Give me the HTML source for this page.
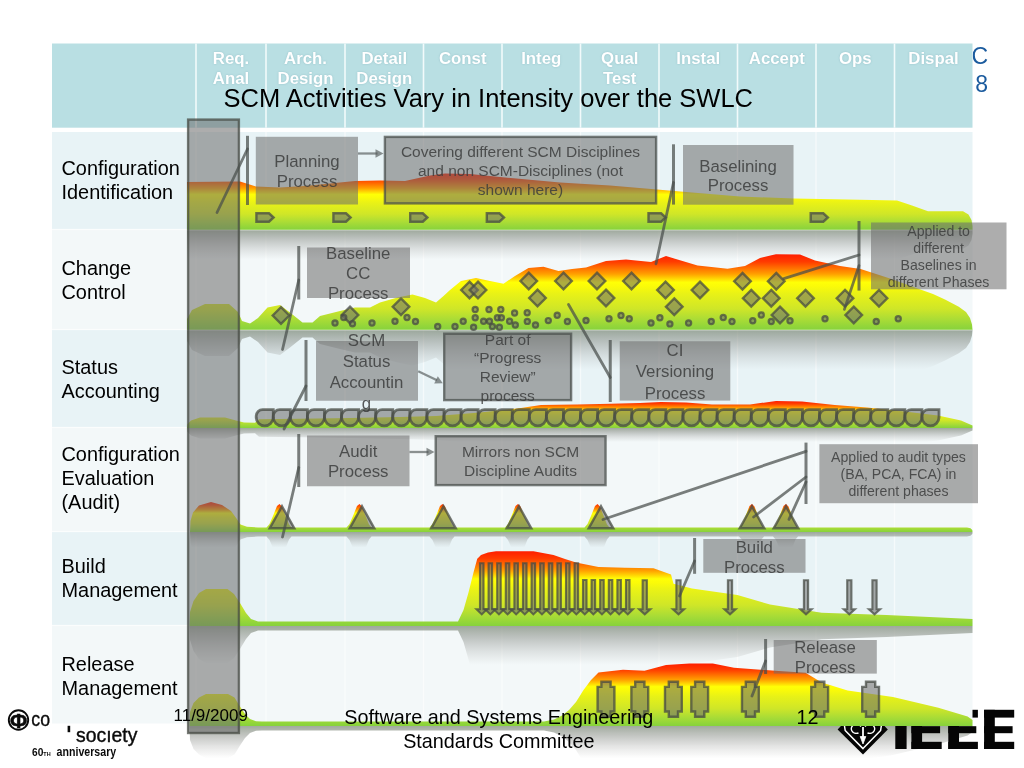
<!DOCTYPE html>
<html><head><meta charset="utf-8"><title>SCM Activities Vary in Intensity over the SWLC</title>
<style>
html,body{margin:0;padding:0;background:#ffffff;}
body{width:1024px;height:768px;overflow:hidden;position:relative;font-family:"Liberation Sans", sans-serif;}
svg text{font-family:"Liberation Sans", sans-serif;}
</style></head><body>
<svg width="1024" height="768" viewBox="0 0 1024 768" style="will-change:transform;position:absolute;left:0;top:0;font-family:'Liberation Sans', sans-serif">
<defs>
<linearGradient id="g1" gradientUnits="userSpaceOnUse" x1="0" y1="173.50" x2="0" y2="230.00">
<stop offset="0" stop-color="#ff1e00"/><stop offset="0.10" stop-color="#ff3c00"/><stop offset="0.26" stop-color="#ffa000"/><stop offset="0.37" stop-color="#ffff06"/><stop offset="0.42" stop-color="#fbfb08"/><stop offset="0.52" stop-color="#e9f216"/><stop offset="0.72" stop-color="#cfe628"/><stop offset="0.86" stop-color="#aadc36"/><stop offset="1" stop-color="#86d23c"/>
</linearGradient>
<linearGradient id="r1" gradientUnits="userSpaceOnUse" x1="0" y1="230.00" x2="0" y2="259.38">
<stop offset="0" stop-color="#7d8a78" stop-opacity="0.72"/><stop offset="0.3" stop-color="#888d86" stop-opacity="0.5"/><stop offset="0.65" stop-color="#939592" stop-opacity="0.23"/><stop offset="1" stop-color="#a0a09c" stop-opacity="0"/>
</linearGradient>
<linearGradient id="g2" gradientUnits="userSpaceOnUse" x1="0" y1="254.30" x2="0" y2="330.00">
<stop offset="0" stop-color="#ff1e00"/><stop offset="0.10" stop-color="#ff3c00"/><stop offset="0.26" stop-color="#ffa000"/><stop offset="0.37" stop-color="#ffff06"/><stop offset="0.42" stop-color="#fbfb08"/><stop offset="0.52" stop-color="#e9f216"/><stop offset="0.72" stop-color="#cfe628"/><stop offset="0.86" stop-color="#aadc36"/><stop offset="1" stop-color="#86d23c"/>
</linearGradient>
<linearGradient id="r2" gradientUnits="userSpaceOnUse" x1="0" y1="330.00" x2="0" y2="369.36">
<stop offset="0" stop-color="#7d8a78" stop-opacity="0.72"/><stop offset="0.3" stop-color="#888d86" stop-opacity="0.5"/><stop offset="0.65" stop-color="#939592" stop-opacity="0.23"/><stop offset="1" stop-color="#a0a09c" stop-opacity="0"/>
</linearGradient>
<linearGradient id="g3" gradientUnits="userSpaceOnUse" x1="0" y1="401.00" x2="0" y2="428.00">
<stop offset="0" stop-color="#ff1e00"/><stop offset="0.10" stop-color="#ff3c00"/><stop offset="0.26" stop-color="#ffa000"/><stop offset="0.37" stop-color="#ffff06"/><stop offset="0.42" stop-color="#fbfb08"/><stop offset="0.52" stop-color="#e9f216"/><stop offset="0.72" stop-color="#cfe628"/><stop offset="0.86" stop-color="#aadc36"/><stop offset="1" stop-color="#86d23c"/>
</linearGradient>
<linearGradient id="r3" gradientUnits="userSpaceOnUse" x1="0" y1="428.00" x2="0" y2="442.04">
<stop offset="0" stop-color="#7d8a78" stop-opacity="0.72"/><stop offset="0.3" stop-color="#888d86" stop-opacity="0.5"/><stop offset="0.65" stop-color="#939592" stop-opacity="0.23"/><stop offset="1" stop-color="#a0a09c" stop-opacity="0"/>
</linearGradient>
<linearGradient id="g4" gradientUnits="userSpaceOnUse" x1="0" y1="502.00" x2="0" y2="532.00">
<stop offset="0" stop-color="#ff1e00"/><stop offset="0.10" stop-color="#ff3c00"/><stop offset="0.26" stop-color="#ffa000"/><stop offset="0.37" stop-color="#ffff06"/><stop offset="0.42" stop-color="#fbfb08"/><stop offset="0.52" stop-color="#e9f216"/><stop offset="0.72" stop-color="#cfe628"/><stop offset="0.86" stop-color="#aadc36"/><stop offset="1" stop-color="#86d23c"/>
</linearGradient>
<linearGradient id="r4" gradientUnits="userSpaceOnUse" x1="0" y1="532.00" x2="0" y2="547.60">
<stop offset="0" stop-color="#7d8a78" stop-opacity="0.72"/><stop offset="0.3" stop-color="#888d86" stop-opacity="0.5"/><stop offset="0.65" stop-color="#939592" stop-opacity="0.23"/><stop offset="1" stop-color="#a0a09c" stop-opacity="0"/>
</linearGradient>
<linearGradient id="g5" gradientUnits="userSpaceOnUse" x1="0" y1="551.25" x2="0" y2="626.00">
<stop offset="0" stop-color="#ff1e00"/><stop offset="0.10" stop-color="#ff3c00"/><stop offset="0.26" stop-color="#ffa000"/><stop offset="0.37" stop-color="#ffff06"/><stop offset="0.42" stop-color="#fbfb08"/><stop offset="0.52" stop-color="#e9f216"/><stop offset="0.72" stop-color="#cfe628"/><stop offset="0.86" stop-color="#aadc36"/><stop offset="1" stop-color="#86d23c"/>
</linearGradient>
<linearGradient id="r5" gradientUnits="userSpaceOnUse" x1="0" y1="626.00" x2="0" y2="664.87">
<stop offset="0" stop-color="#7d8a78" stop-opacity="0.72"/><stop offset="0.3" stop-color="#888d86" stop-opacity="0.5"/><stop offset="0.65" stop-color="#939592" stop-opacity="0.23"/><stop offset="1" stop-color="#a0a09c" stop-opacity="0"/>
</linearGradient>
<linearGradient id="g6" gradientUnits="userSpaceOnUse" x1="0" y1="663.50" x2="0" y2="726.00">
<stop offset="0" stop-color="#ff1e00"/><stop offset="0.10" stop-color="#ff3c00"/><stop offset="0.26" stop-color="#ffa000"/><stop offset="0.37" stop-color="#ffff06"/><stop offset="0.42" stop-color="#fbfb08"/><stop offset="0.52" stop-color="#e9f216"/><stop offset="0.72" stop-color="#cfe628"/><stop offset="0.86" stop-color="#aadc36"/><stop offset="1" stop-color="#86d23c"/>
</linearGradient>
<linearGradient id="r6" gradientUnits="userSpaceOnUse" x1="0" y1="726.00" x2="0" y2="758.50">
<stop offset="0" stop-color="#7d8a78" stop-opacity="0.72"/><stop offset="0.3" stop-color="#888d86" stop-opacity="0.5"/><stop offset="0.65" stop-color="#939592" stop-opacity="0.23"/><stop offset="1" stop-color="#a0a09c" stop-opacity="0"/>
</linearGradient>
<clipPath id="clipR"><rect x="972.5" y="0" width="60" height="140"/></clipPath>
</defs>
<path d="M189.50,726.00 L190.00,740.00 L193.50,749.00 L199.00,754.50 L206.00,758.00 L228.00,758.00 L234.50,754.50 L240.00,745.50 L245.00,738.00 L250.00,733.00 L256.00,730.70 L262.00,730.50 L544.00,730.50 L554.00,732.50 L562.00,736.50 L569.00,742.00 L576.00,750.00 L583.50,762.00 L591.00,772.00 L598.50,779.50 L623.00,782.20 L644.50,781.30 L666.00,787.00 L689.40,788.50 L712.80,788.50 L734.00,784.20 L775.00,781.30 L805.50,779.30 L821.70,769.60 L847.60,761.50 L893.00,755.00 L938.40,744.30 L967.60,735.60 L972.50,732.00 L972.50,726.00 Z" fill="url(#r6)"/>
<g clip-path="url(#clipR)" fill="#1b5b9e" font-size="23px" text-anchor="end">
<text x="988" y="64.4">C</text><text x="988" y="91.6">8</text>
</g>
<g id="ieee" fill="#050505">
<path d="M837.6,729.6 L863,703 L887.8,729.6 L863,754.4 Z"/>
<rect x="895.3" y="709.8" width="11.3" height="39.2"/>
<rect x="911.4" y="709.8" width="10.7" height="39.2"/><rect x="911.4" y="709.8" width="30.3" height="7.8"/><rect x="911.4" y="726.2" width="28.7" height="7"/><rect x="911.4" y="741.8" width="30.3" height="7.2"/>
<rect x="948.3" y="709.8" width="10.7" height="39.2"/><rect x="948.3" y="709.8" width="29.6" height="7.8"/><rect x="948.3" y="726.2" width="28.0" height="7"/><rect x="948.3" y="741.8" width="29.6" height="7.2"/>
<rect x="984.1" y="709.8" width="10.7" height="39.2"/><rect x="984.1" y="709.8" width="30.1" height="7.8"/><rect x="984.1" y="726.2" width="28.5" height="7"/><rect x="984.1" y="741.8" width="30.1" height="7.2"/>
</g>
<g fill="none" stroke="#fff" stroke-width="1.5" stroke-linejoin="round">
<path d="M844.5,726 L845.2,730.5 L863,748.6 L880.6,730.5 L881.3,726"/>
<path d="M863,727 V739" stroke-width="1.8"/>
<path d="M860.2,736.5 L863,744 L865.8,736.5 Z" fill="#fff" stroke-width="0.8"/>
<path d="M858.5,733 a5.2,4.6 0 1 1 2.5,-6.5 M867.5,733 a5.2,4.6 0 1 0 -2.5,-6.5" stroke-width="1.4"/>
</g>
<g fill="#0a0a0a" stroke="#0a0a0a">
<circle cx="18.5" cy="720" r="9.7" fill="none" stroke-width="1.9"/>
<text x="18.5" y="727.6" font-size="21px" font-weight="bold" text-anchor="middle" stroke-width="0.5" font-family="Liberation Serif, serif">&#934;</text>
<text transform="translate(31.3,725.9) scale(0.9,1)" font-size="19.7px" stroke-width="0.35">co</text>
<text transform="translate(76,741.6) scale(0.945,1)" font-size="20.5px" stroke-width="0.4">soc&#305;ety</text>
<rect x="67.6" y="725.8" width="2.6" height="6.4" stroke="none"/>
<text transform="translate(32,755.7) scale(0.88,1)" font-size="11.6px" font-weight="bold" stroke="none">60<tspan font-size="6.2px">TH</tspan></text>
<text transform="translate(56.6,755.7) scale(0.885,1)" font-size="12px" font-weight="bold" stroke="none">anniversary</text>
</g>
<rect x="52.0" y="43.5" width="920.5" height="84.2" fill="#b9dfe3"/>
<rect x="52.0" y="132.0" width="920.5" height="97.5" fill="#e8f3f6"/>
<rect x="52.0" y="229.5" width="920.5" height="100.0" fill="#f3f8f9"/>
<rect x="52.0" y="329.5" width="920.5" height="98.0" fill="#e8f3f6"/>
<rect x="52.0" y="427.5" width="920.5" height="104.0" fill="#f3f8f9"/>
<rect x="52.0" y="531.5" width="920.5" height="94.0" fill="#e8f3f6"/>
<rect x="52.0" y="625.5" width="920.5" height="98.0" fill="#f3f8f9"/>
<rect x="52.0" y="228.9" width="920.5" height="1.2" fill="#fbfdfd"/>
<rect x="52.0" y="328.9" width="920.5" height="1.2" fill="#fbfdfd"/>
<rect x="52.0" y="426.9" width="920.5" height="1.2" fill="#fbfdfd"/>
<rect x="52.0" y="530.9" width="920.5" height="1.2" fill="#fbfdfd"/>
<rect x="52.0" y="624.9" width="920.5" height="1.2" fill="#fbfdfd"/>
<rect x="195.20" y="43.5" width="1.6" height="84.2" fill="#f2fafb"/>
<rect x="195.30" y="132" width="1.4" height="591.5" fill="#ffffff" fill-opacity="0.55"/>
<rect x="265.20" y="43.5" width="1.6" height="84.2" fill="#f2fafb"/>
<rect x="265.30" y="132" width="1.4" height="591.5" fill="#ffffff" fill-opacity="0.55"/>
<rect x="344.20" y="43.5" width="1.6" height="84.2" fill="#f2fafb"/>
<rect x="344.30" y="132" width="1.4" height="591.5" fill="#ffffff" fill-opacity="0.55"/>
<rect x="422.70" y="43.5" width="1.6" height="84.2" fill="#f2fafb"/>
<rect x="422.80" y="132" width="1.4" height="591.5" fill="#ffffff" fill-opacity="0.55"/>
<rect x="501.20" y="43.5" width="1.6" height="84.2" fill="#f2fafb"/>
<rect x="501.30" y="132" width="1.4" height="591.5" fill="#ffffff" fill-opacity="0.55"/>
<rect x="579.70" y="43.5" width="1.6" height="84.2" fill="#f2fafb"/>
<rect x="579.80" y="132" width="1.4" height="591.5" fill="#ffffff" fill-opacity="0.55"/>
<rect x="658.20" y="43.5" width="1.6" height="84.2" fill="#f2fafb"/>
<rect x="658.30" y="132" width="1.4" height="591.5" fill="#ffffff" fill-opacity="0.55"/>
<rect x="736.70" y="43.5" width="1.6" height="84.2" fill="#f2fafb"/>
<rect x="736.80" y="132" width="1.4" height="591.5" fill="#ffffff" fill-opacity="0.55"/>
<rect x="815.20" y="43.5" width="1.6" height="84.2" fill="#f2fafb"/>
<rect x="815.30" y="132" width="1.4" height="591.5" fill="#ffffff" fill-opacity="0.55"/>
<rect x="893.70" y="43.5" width="1.6" height="84.2" fill="#f2fafb"/>
<rect x="893.80" y="132" width="1.4" height="591.5" fill="#ffffff" fill-opacity="0.55"/>
<g fill="#ffffff" font-weight="bold" font-size="16.8px" text-anchor="middle" style="text-shadow:0 0 2px rgba(120,170,180,0.6)">
<text x="231.00" y="64.2">Req.</text>
<text x="231.00" y="83.7">Anal</text>
<text x="305.50" y="64.2">Arch.</text>
<text x="305.50" y="83.7">Design</text>
<text x="384.25" y="64.2">Detail</text>
<text x="384.25" y="83.7">Design</text>
<text x="462.75" y="64.2">Const</text>
<text x="541.25" y="64.2">Integ</text>
<text x="619.75" y="64.2">Qual</text>
<text x="619.75" y="83.7">Test</text>
<text x="698.25" y="64.2">Instal</text>
<text x="776.75" y="64.2">Accept</text>
<text x="855.25" y="64.2">Ops</text>
<text x="933.50" y="64.2">Dispal</text>
</g>
<g fill="#000" font-size="19.9px">
<text x="61.5" y="175.0">Configuration</text>
<text x="61.5" y="198.8">Identification</text>
<text x="61.5" y="275.0">Change</text>
<text x="61.5" y="299.0">Control</text>
<text x="61.5" y="374.0">Status</text>
<text x="61.5" y="398.3">Accounting</text>
<text x="61.5" y="461.0">Configuration</text>
<text x="61.5" y="485.0">Evaluation</text>
<text x="61.5" y="509.0">(Audit)</text>
<text x="61.5" y="572.5">Build</text>
<text x="61.5" y="596.5">Management</text>
<text x="61.5" y="671.0">Release</text>
<text x="61.5" y="694.6">Management</text>
</g>
<path d="M187.00,230.00 L187.00,278.00 L240.00,278.50 L256.00,273.50 L280.00,272.50 L305.00,274.00 L330.00,276.50 L355.00,279.00 L380.00,279.50 L405.00,279.00 L430.00,284.50 L445.00,286.50 L470.00,286.00 L500.00,283.00 L560.00,277.50 L610.00,274.50 L657.00,270.50 L692.00,267.50 L740.00,263.50 L794.00,261.50 L860.00,260.30 L897.00,259.50 L912.00,254.50 L928.00,248.70 L963.00,248.70 L968.50,245.50 L971.50,240.00 L972.50,234.00 L972.50,230.00 Z" fill="url(#r1)"/>
<path d="M187.00,330.00 L187.00,341.00 L192.00,350.00 L205.00,356.00 L229.00,356.00 L238.00,348.00 L242.00,339.00 L250.00,336.50 L258.00,342.00 L267.50,352.50 L280.00,355.00 L290.00,347.50 L302.50,337.50 L312.50,337.50 L320.00,344.00 L340.00,349.00 L355.00,352.50 L370.00,352.50 L380.00,357.50 L397.50,362.50 L412.50,365.50 L425.00,362.00 L436.00,357.50 L443.50,364.00 L450.00,370.00 L461.00,379.00 L476.00,382.00 L490.00,379.00 L503.50,376.25 L515.00,384.00 L528.50,392.00 L543.50,393.25 L558.50,389.00 L572.00,391.00 L586.00,392.50 L606.00,399.00 L626.00,400.50 L651.00,398.00 L666.00,404.00 L675.00,401.25 L697.50,394.50 L711.50,393.00 L727.50,391.25 L745.00,394.00 L760.00,402.00 L772.50,405.00 L776.00,405.70 L800.00,405.50 L815.00,399.50 L840.00,394.00 L860.60,391.00 L890.00,381.50 L919.00,371.00 L933.00,366.00 L945.00,360.50 L958.80,353.30 L966.00,348.00 L970.00,342.00 L972.00,335.50 L972.50,330.00 Z" fill="url(#r2)"/>
<path d="M187.00,428.00 L187.50,432.00 L191.00,435.50 L200.00,438.50 L225.00,438.50 L236.00,435.50 L244.00,433.40 L255.00,433.20 L259.00,436.80 L300.00,437.20 L350.00,438.00 L400.00,439.00 L436.00,440.00 L480.00,443.50 L521.00,448.00 L541.00,451.00 L577.00,451.50 L611.00,452.25 L640.00,453.00 L661.00,454.00 L686.00,453.50 L712.00,451.50 L750.00,451.50 L776.00,455.00 L802.00,454.50 L834.70,451.00 L867.00,448.50 L900.00,445.00 L938.00,440.40 L961.00,435.50 L972.50,430.50 L972.50,428.00 Z" fill="url(#r3)"/>
<path d="M190.00,532.00 L190.50,543.00 L193.00,551.50 L199.00,558.50 L211.00,562.00 L222.00,559.00 L231.00,553.00 L236.50,545.50 L240.50,539.50 L247.00,537.20 L258.00,536.50 L266.50,536.50 L269.50,540.00 L273.00,548.00 L277.00,558.00 L279.50,560.00 L282.00,557.50 L286.00,547.00 L289.00,539.50 L291.50,536.50 L346.50,536.50 L349.50,540.00 L353.00,548.00 L357.00,558.00 L359.50,560.00 L362.00,557.50 L366.00,547.00 L369.00,539.50 L371.50,536.50 L429.50,536.50 L432.50,540.00 L436.00,548.00 L440.00,558.00 L442.50,560.00 L445.00,557.50 L449.00,547.00 L452.00,539.50 L454.50,536.50 L505.00,536.50 L508.00,540.00 L511.50,548.00 L515.50,558.00 L518.00,560.00 L520.50,557.50 L524.50,547.00 L527.50,539.50 L530.00,536.50 L584.50,536.50 L587.50,540.00 L591.00,548.00 L595.00,558.00 L597.50,560.00 L600.00,557.50 L604.00,547.00 L607.00,539.50 L609.50,536.50 L739.00,536.50 L742.00,540.00 L745.50,548.00 L749.50,558.00 L752.00,560.00 L754.50,557.50 L758.50,547.00 L761.50,539.50 L764.00,536.50 L773.00,536.50 L776.00,540.00 L779.50,548.00 L783.50,558.00 L786.00,560.00 L788.50,557.50 L792.50,547.00 L795.50,539.50 L798.00,536.50 L967.00,536.50 L970.50,535.70 L972.30,534.00 L972.50,532.00 Z" fill="url(#r4)"/>
<path d="M189.50,626.00 L190.00,640.00 L193.50,651.00 L199.00,659.00 L206.00,663.00 L227.50,663.00 L234.00,658.00 L240.00,649.00 L246.00,639.00 L251.00,633.00 L258.00,630.50 L458.00,630.50 L463.50,642.00 L468.50,659.50 L473.50,679.50 L477.25,693.25 L481.00,697.00 L488.00,699.50 L496.00,700.75 L533.50,700.75 L553.50,697.00 L565.00,693.00 L576.00,689.50 L598.50,685.00 L625.00,684.20 L653.50,683.75 L671.00,677.50 L673.50,668.25 L692.00,663.50 L737.40,657.00 L770.00,647.40 L821.70,639.30 L886.50,637.00 L972.50,633.00 L972.50,626.00 Z" fill="url(#r5)"/>
<path d="M187.00,230.00 L187.00,182.00 L240.00,181.50 L256.00,186.50 L280.00,187.50 L305.00,186.00 L330.00,183.50 L355.00,181.00 L380.00,180.50 L405.00,181.00 L430.00,175.50 L445.00,173.50 L470.00,174.00 L500.00,177.00 L560.00,182.50 L610.00,185.50 L657.00,189.50 L692.00,192.50 L740.00,196.50 L794.00,198.50 L860.00,199.70 L897.00,200.50 L912.00,205.50 L928.00,211.30 L963.00,211.30 L968.50,214.50 L971.50,220.00 L972.50,226.00 L972.50,230.00 Z" fill="url(#g1)"/>
<path d="M187.00,330.00 L187.00,319.00 L192.00,310.00 L205.00,304.00 L229.00,304.00 L238.00,312.00 L242.00,321.00 L250.00,323.50 L258.00,318.00 L267.50,307.50 L280.00,305.00 L290.00,312.50 L302.50,322.50 L312.50,322.50 L320.00,316.00 L340.00,311.00 L355.00,307.50 L370.00,307.50 L380.00,302.50 L397.50,297.50 L412.50,294.50 L425.00,298.00 L436.00,302.50 L443.50,296.00 L450.00,290.00 L461.00,281.00 L476.00,278.00 L490.00,281.00 L503.50,283.75 L515.00,276.00 L528.50,268.00 L543.50,266.75 L558.50,271.00 L572.00,269.00 L586.00,267.50 L606.00,261.00 L626.00,259.50 L651.00,262.00 L666.00,256.00 L675.00,258.75 L697.50,265.50 L711.50,267.00 L727.50,268.75 L745.00,266.00 L760.00,258.00 L772.50,255.00 L776.00,254.30 L800.00,254.50 L815.00,260.50 L840.00,266.00 L860.60,269.00 L890.00,278.50 L919.00,289.00 L933.00,294.00 L945.00,299.50 L958.80,306.70 L966.00,312.00 L970.00,318.00 L972.00,324.50 L972.50,330.00 Z" fill="url(#g2)"/>
<path d="M187.00,428.00 L187.50,424.00 L191.00,420.50 L200.00,417.50 L225.00,417.50 L236.00,420.50 L244.00,422.60 L255.00,422.80 L259.00,419.20 L300.00,418.80 L350.00,418.00 L400.00,417.00 L436.00,416.00 L480.00,412.50 L521.00,408.00 L541.00,405.00 L577.00,404.50 L611.00,403.75 L640.00,403.00 L661.00,402.00 L686.00,402.50 L712.00,404.50 L750.00,404.50 L776.00,401.00 L802.00,401.50 L834.70,405.00 L867.00,407.50 L900.00,411.00 L938.00,415.60 L961.00,420.50 L972.50,425.50 L972.50,428.00 Z" fill="url(#g3)"/>
<path d="M190.00,532.00 L190.50,521.00 L193.00,512.50 L199.00,505.50 L211.00,502.00 L222.00,505.00 L231.00,511.00 L236.50,518.50 L240.50,524.50 L247.00,526.80 L258.00,527.50 L266.50,527.50 L269.50,524.00 L273.00,516.00 L277.00,506.00 L279.50,504.00 L282.00,506.50 L286.00,517.00 L289.00,524.50 L291.50,527.50 L346.50,527.50 L349.50,524.00 L353.00,516.00 L357.00,506.00 L359.50,504.00 L362.00,506.50 L366.00,517.00 L369.00,524.50 L371.50,527.50 L429.50,527.50 L432.50,524.00 L436.00,516.00 L440.00,506.00 L442.50,504.00 L445.00,506.50 L449.00,517.00 L452.00,524.50 L454.50,527.50 L505.00,527.50 L508.00,524.00 L511.50,516.00 L515.50,506.00 L518.00,504.00 L520.50,506.50 L524.50,517.00 L527.50,524.50 L530.00,527.50 L584.50,527.50 L587.50,524.00 L591.00,516.00 L595.00,506.00 L597.50,504.00 L600.00,506.50 L604.00,517.00 L607.00,524.50 L609.50,527.50 L739.00,527.50 L742.00,524.00 L745.50,516.00 L749.50,506.00 L752.00,504.00 L754.50,506.50 L758.50,517.00 L761.50,524.50 L764.00,527.50 L773.00,527.50 L776.00,524.00 L779.50,516.00 L783.50,506.00 L786.00,504.00 L788.50,506.50 L792.50,517.00 L795.50,524.50 L798.00,527.50 L967.00,527.50 L970.50,528.30 L972.30,530.00 L972.50,532.00 Z" fill="url(#g4)"/>
<path d="M189.50,626.00 L190.00,612.00 L193.50,601.00 L199.00,593.00 L206.00,589.00 L227.50,589.00 L234.00,594.00 L240.00,603.00 L246.00,613.00 L251.00,619.00 L258.00,621.50 L458.00,621.50 L463.50,610.00 L468.50,592.50 L473.50,572.50 L477.25,558.75 L481.00,555.00 L488.00,552.50 L496.00,551.25 L533.50,551.25 L553.50,555.00 L565.00,559.00 L576.00,562.50 L598.50,567.00 L625.00,567.80 L653.50,568.25 L671.00,574.50 L673.50,583.75 L692.00,588.50 L737.40,595.00 L770.00,604.60 L821.70,612.70 L886.50,615.00 L972.50,619.00 L972.50,626.00 Z" fill="url(#g5)"/>
<path d="M189.50,726.00 L190.00,712.00 L193.50,703.00 L199.00,697.50 L206.00,694.00 L228.00,694.00 L234.50,697.50 L240.00,706.50 L245.00,714.00 L250.00,719.00 L256.00,721.30 L262.00,721.50 L544.00,721.50 L554.00,719.50 L562.00,715.50 L569.00,710.00 L576.00,702.00 L583.50,690.00 L591.00,680.00 L598.50,672.50 L623.00,669.80 L644.50,670.70 L666.00,665.00 L689.40,663.50 L712.80,663.50 L734.00,667.80 L775.00,670.70 L805.50,672.70 L821.70,682.40 L847.60,690.50 L893.00,697.00 L938.40,707.70 L967.60,716.40 L972.50,720.00 L972.50,726.00 Z" fill="url(#g6)"/>
<rect x="187" y="229.6" width="785.5" height="0.9" fill="#ffffff" fill-opacity="0.55"/>
<rect x="187" y="329.6" width="785.5" height="0.9" fill="#ffffff" fill-opacity="0.55"/>
<g fill="rgba(108,108,108,0.56)" stroke="rgba(70,74,68,0.74)" stroke-width="2.4" stroke-linejoin="miter">
<path d="M256.4,213.3 h12.6 l4.6,4.2 l-4.6,4.2 h-12.6 Z"/>
<path d="M333.4,213.3 h12.6 l4.6,4.2 l-4.6,4.2 h-12.6 Z"/>
<path d="M410.2,213.3 h12.6 l4.6,4.2 l-4.6,4.2 h-12.6 Z"/>
<path d="M486.8,213.3 h12.6 l4.6,4.2 l-4.6,4.2 h-12.6 Z"/>
<path d="M648.5,213.3 h12.6 l4.6,4.2 l-4.6,4.2 h-12.6 Z"/>
<path d="M810.7,213.3 h12.6 l4.6,4.2 l-4.6,4.2 h-12.6 Z"/>
</g>
<g fill="rgba(108,108,108,0.56)" stroke="rgba(70,74,68,0.74)" stroke-width="2.4" stroke-linejoin="miter">
<path d="M281.00,307.20 L289.30,315.50 L281.00,323.80 L272.70,315.50 Z"/>
<path d="M350.00,306.70 L358.30,315.00 L350.00,323.30 L341.70,315.00 Z"/>
<path d="M401.00,298.45 L409.30,306.75 L401.00,315.05 L392.70,306.75 Z"/>
<path d="M469.50,281.70 L477.80,290.00 L469.50,298.30 L461.20,290.00 Z"/>
<path d="M478.00,281.70 L486.30,290.00 L478.00,298.30 L469.70,290.00 Z"/>
<path d="M528.75,272.70 L537.05,281.00 L528.75,289.30 L520.45,281.00 Z"/>
<path d="M537.50,289.70 L545.80,298.00 L537.50,306.30 L529.20,298.00 Z"/>
<path d="M563.50,272.70 L571.80,281.00 L563.50,289.30 L555.20,281.00 Z"/>
<path d="M597.00,272.70 L605.30,281.00 L597.00,289.30 L588.70,281.00 Z"/>
<path d="M606.00,289.70 L614.30,298.00 L606.00,306.30 L597.70,298.00 Z"/>
<path d="M631.50,272.70 L639.80,281.00 L631.50,289.30 L623.20,281.00 Z"/>
<path d="M665.50,281.70 L673.80,290.00 L665.50,298.30 L657.20,290.00 Z"/>
<path d="M674.25,298.45 L682.55,306.75 L674.25,315.05 L665.95,306.75 Z"/>
<path d="M700.00,281.70 L708.30,290.00 L700.00,298.30 L691.70,290.00 Z"/>
<path d="M742.50,272.95 L750.80,281.25 L742.50,289.55 L734.20,281.25 Z"/>
<path d="M751.25,289.95 L759.55,298.25 L751.25,306.55 L742.95,298.25 Z"/>
<path d="M771.25,289.95 L779.55,298.25 L771.25,306.55 L762.95,298.25 Z"/>
<path d="M776.25,272.95 L784.55,281.25 L776.25,289.55 L767.95,281.25 Z"/>
<path d="M780.00,306.70 L788.30,315.00 L780.00,323.30 L771.70,315.00 Z"/>
<path d="M805.50,289.95 L813.80,298.25 L805.50,306.55 L797.20,298.25 Z"/>
<path d="M845.00,289.95 L853.30,298.25 L845.00,306.55 L836.70,298.25 Z"/>
<path d="M853.75,306.70 L862.05,315.00 L853.75,323.30 L845.45,315.00 Z"/>
<path d="M879.00,289.95 L887.30,298.25 L879.00,306.55 L870.70,298.25 Z"/>
</g>
<g fill="rgba(108,108,108,0.56)" stroke="rgba(70,74,68,0.74)" stroke-width="2.2">
<circle cx="335.00" cy="323.00" r="2.6"/>
<circle cx="343.75" cy="317.50" r="2.6"/>
<circle cx="352.50" cy="323.75" r="2.6"/>
<circle cx="372.00" cy="323.00" r="2.6"/>
<circle cx="395.00" cy="321.25" r="2.6"/>
<circle cx="407.00" cy="317.50" r="2.6"/>
<circle cx="415.50" cy="321.50" r="2.6"/>
<circle cx="437.70" cy="326.50" r="2.6"/>
<circle cx="455.00" cy="326.50" r="2.6"/>
<circle cx="463.20" cy="321.25" r="2.6"/>
<circle cx="473.60" cy="327.20" r="2.6"/>
<circle cx="475.20" cy="309.50" r="2.6"/>
<circle cx="475.20" cy="317.80" r="2.6"/>
<circle cx="483.60" cy="321.25" r="2.6"/>
<circle cx="489.00" cy="309.50" r="2.6"/>
<circle cx="489.50" cy="321.25" r="2.6"/>
<circle cx="492.40" cy="326.50" r="2.6"/>
<circle cx="497.40" cy="317.80" r="2.6"/>
<circle cx="499.40" cy="327.20" r="2.6"/>
<circle cx="500.80" cy="309.50" r="2.6"/>
<circle cx="501.40" cy="317.80" r="2.6"/>
<circle cx="509.60" cy="321.25" r="2.6"/>
<circle cx="514.60" cy="313.00" r="2.6"/>
<circle cx="515.30" cy="325.00" r="2.6"/>
<circle cx="527.20" cy="312.80" r="2.6"/>
<circle cx="527.30" cy="321.40" r="2.6"/>
<circle cx="535.50" cy="325.00" r="2.6"/>
<circle cx="548.30" cy="320.60" r="2.6"/>
<circle cx="557.20" cy="315.30" r="2.6"/>
<circle cx="567.40" cy="321.50" r="2.6"/>
<circle cx="586.00" cy="320.50" r="2.6"/>
<circle cx="609.00" cy="318.75" r="2.6"/>
<circle cx="621.00" cy="315.50" r="2.6"/>
<circle cx="629.25" cy="318.75" r="2.6"/>
<circle cx="651.00" cy="323.00" r="2.6"/>
<circle cx="659.90" cy="317.80" r="2.6"/>
<circle cx="669.90" cy="323.90" r="2.6"/>
<circle cx="688.60" cy="323.00" r="2.6"/>
<circle cx="711.25" cy="321.50" r="2.6"/>
<circle cx="723.25" cy="317.50" r="2.6"/>
<circle cx="732.00" cy="321.50" r="2.6"/>
<circle cx="752.75" cy="320.75" r="2.6"/>
<circle cx="761.25" cy="315.00" r="2.6"/>
<circle cx="771.25" cy="321.50" r="2.6"/>
<circle cx="790.00" cy="320.75" r="2.6"/>
<circle cx="825.00" cy="318.75" r="2.6"/>
<circle cx="876.25" cy="321.50" r="2.6"/>
<circle cx="898.25" cy="318.75" r="2.6"/>
</g>
<g fill="rgba(108,108,108,0.56)" stroke="rgba(70,74,68,0.74)" stroke-width="2.8" stroke-linejoin="miter">
<path d="M256.20,416.10 A6.50,6.50 0 0 1 262.70,409.60 L273.27,409.60 L273.27,417.66 A8.54,8.54 0 0 1 256.20,417.66 Z"/>
<path d="M273.27,416.10 A6.50,6.50 0 0 1 279.77,409.60 L290.34,409.60 L290.34,417.66 A8.54,8.54 0 0 1 273.27,417.66 Z"/>
<path d="M290.34,416.10 A6.50,6.50 0 0 1 296.84,409.60 L307.41,409.60 L307.41,417.66 A8.54,8.54 0 0 1 290.34,417.66 Z"/>
<path d="M307.41,416.10 A6.50,6.50 0 0 1 313.91,409.60 L324.48,409.60 L324.48,417.66 A8.54,8.54 0 0 1 307.41,417.66 Z"/>
<path d="M324.48,416.10 A6.50,6.50 0 0 1 330.98,409.60 L341.55,409.60 L341.55,417.66 A8.54,8.54 0 0 1 324.48,417.66 Z"/>
<path d="M341.55,416.10 A6.50,6.50 0 0 1 348.05,409.60 L358.62,409.60 L358.62,417.66 A8.54,8.54 0 0 1 341.55,417.66 Z"/>
<path d="M358.62,416.10 A6.50,6.50 0 0 1 365.12,409.60 L375.69,409.60 L375.69,417.66 A8.54,8.54 0 0 1 358.62,417.66 Z"/>
<path d="M375.69,416.10 A6.50,6.50 0 0 1 382.19,409.60 L392.76,409.60 L392.76,417.66 A8.54,8.54 0 0 1 375.69,417.66 Z"/>
<path d="M392.76,416.10 A6.50,6.50 0 0 1 399.26,409.60 L409.83,409.60 L409.83,417.66 A8.54,8.54 0 0 1 392.76,417.66 Z"/>
<path d="M409.83,416.10 A6.50,6.50 0 0 1 416.33,409.60 L426.90,409.60 L426.90,417.66 A8.54,8.54 0 0 1 409.83,417.66 Z"/>
<path d="M426.90,416.10 A6.50,6.50 0 0 1 433.40,409.60 L443.97,409.60 L443.97,417.66 A8.54,8.54 0 0 1 426.90,417.66 Z"/>
<path d="M443.97,416.10 A6.50,6.50 0 0 1 450.47,409.60 L461.04,409.60 L461.04,417.66 A8.54,8.54 0 0 1 443.97,417.66 Z"/>
<path d="M461.04,416.10 A6.50,6.50 0 0 1 467.54,409.60 L478.11,409.60 L478.11,417.66 A8.54,8.54 0 0 1 461.04,417.66 Z"/>
<path d="M478.11,416.10 A6.50,6.50 0 0 1 484.61,409.60 L495.18,409.60 L495.18,417.66 A8.54,8.54 0 0 1 478.11,417.66 Z"/>
<path d="M495.18,416.10 A6.50,6.50 0 0 1 501.68,409.60 L512.25,409.60 L512.25,417.66 A8.54,8.54 0 0 1 495.18,417.66 Z"/>
<path d="M512.25,416.10 A6.50,6.50 0 0 1 518.75,409.60 L529.32,409.60 L529.32,417.66 A8.54,8.54 0 0 1 512.25,417.66 Z"/>
<path d="M529.32,416.10 A6.50,6.50 0 0 1 535.82,409.60 L546.39,409.60 L546.39,417.66 A8.54,8.54 0 0 1 529.32,417.66 Z"/>
<path d="M546.39,416.10 A6.50,6.50 0 0 1 552.89,409.60 L563.46,409.60 L563.46,417.66 A8.54,8.54 0 0 1 546.39,417.66 Z"/>
<path d="M563.46,416.10 A6.50,6.50 0 0 1 569.96,409.60 L580.53,409.60 L580.53,417.66 A8.54,8.54 0 0 1 563.46,417.66 Z"/>
<path d="M580.53,416.10 A6.50,6.50 0 0 1 587.03,409.60 L597.60,409.60 L597.60,417.66 A8.54,8.54 0 0 1 580.53,417.66 Z"/>
<path d="M597.60,416.10 A6.50,6.50 0 0 1 604.10,409.60 L614.67,409.60 L614.67,417.66 A8.54,8.54 0 0 1 597.60,417.66 Z"/>
<path d="M614.67,416.10 A6.50,6.50 0 0 1 621.17,409.60 L631.74,409.60 L631.74,417.66 A8.54,8.54 0 0 1 614.67,417.66 Z"/>
<path d="M631.74,416.10 A6.50,6.50 0 0 1 638.24,409.60 L648.81,409.60 L648.81,417.66 A8.54,8.54 0 0 1 631.74,417.66 Z"/>
<path d="M648.81,416.10 A6.50,6.50 0 0 1 655.31,409.60 L665.88,409.60 L665.88,417.66 A8.54,8.54 0 0 1 648.81,417.66 Z"/>
<path d="M665.88,416.10 A6.50,6.50 0 0 1 672.38,409.60 L682.95,409.60 L682.95,417.66 A8.54,8.54 0 0 1 665.88,417.66 Z"/>
<path d="M682.95,416.10 A6.50,6.50 0 0 1 689.45,409.60 L700.02,409.60 L700.02,417.66 A8.54,8.54 0 0 1 682.95,417.66 Z"/>
<path d="M700.02,416.10 A6.50,6.50 0 0 1 706.52,409.60 L717.09,409.60 L717.09,417.66 A8.54,8.54 0 0 1 700.02,417.66 Z"/>
<path d="M717.09,416.10 A6.50,6.50 0 0 1 723.59,409.60 L734.16,409.60 L734.16,417.66 A8.54,8.54 0 0 1 717.09,417.66 Z"/>
<path d="M734.16,416.10 A6.50,6.50 0 0 1 740.66,409.60 L751.23,409.60 L751.23,417.66 A8.54,8.54 0 0 1 734.16,417.66 Z"/>
<path d="M751.23,416.10 A6.50,6.50 0 0 1 757.73,409.60 L768.30,409.60 L768.30,417.66 A8.54,8.54 0 0 1 751.23,417.66 Z"/>
<path d="M768.30,416.10 A6.50,6.50 0 0 1 774.80,409.60 L785.37,409.60 L785.37,417.66 A8.54,8.54 0 0 1 768.30,417.66 Z"/>
<path d="M785.37,416.10 A6.50,6.50 0 0 1 791.87,409.60 L802.44,409.60 L802.44,417.66 A8.54,8.54 0 0 1 785.37,417.66 Z"/>
<path d="M802.44,416.10 A6.50,6.50 0 0 1 808.94,409.60 L819.51,409.60 L819.51,417.66 A8.54,8.54 0 0 1 802.44,417.66 Z"/>
<path d="M819.51,416.10 A6.50,6.50 0 0 1 826.01,409.60 L836.58,409.60 L836.58,417.66 A8.54,8.54 0 0 1 819.51,417.66 Z"/>
<path d="M836.58,416.10 A6.50,6.50 0 0 1 843.08,409.60 L853.65,409.60 L853.65,417.66 A8.54,8.54 0 0 1 836.58,417.66 Z"/>
<path d="M853.65,416.10 A6.50,6.50 0 0 1 860.15,409.60 L870.72,409.60 L870.72,417.66 A8.54,8.54 0 0 1 853.65,417.66 Z"/>
<path d="M870.72,416.10 A6.50,6.50 0 0 1 877.22,409.60 L887.79,409.60 L887.79,417.66 A8.54,8.54 0 0 1 870.72,417.66 Z"/>
<path d="M887.79,416.10 A6.50,6.50 0 0 1 894.29,409.60 L904.86,409.60 L904.86,417.66 A8.54,8.54 0 0 1 887.79,417.66 Z"/>
<path d="M904.86,416.10 A6.50,6.50 0 0 1 911.36,409.60 L921.93,409.60 L921.93,417.66 A8.54,8.54 0 0 1 904.86,417.66 Z"/>
<path d="M921.93,416.10 A6.50,6.50 0 0 1 928.43,409.60 L939.00,409.60 L939.00,417.66 A8.54,8.54 0 0 1 921.93,417.66 Z"/>
</g>
<g fill="rgba(108,108,108,0.56)" stroke="rgba(70,74,68,0.74)" stroke-width="2.4" stroke-linejoin="miter">
<path d="M282.00,506.3 L294.30,528.3 L269.70,528.3 Z"/>
<path d="M362.00,506.3 L374.30,528.3 L349.70,528.3 Z"/>
<path d="M443.50,506.3 L455.80,528.3 L431.20,528.3 Z"/>
<path d="M519.00,506.3 L531.30,528.3 L506.70,528.3 Z"/>
<path d="M601.00,506.3 L613.30,528.3 L588.70,528.3 Z"/>
<path d="M752.00,506.3 L764.30,528.3 L739.70,528.3 Z"/>
<path d="M786.00,506.3 L798.30,528.3 L773.70,528.3 Z"/>
</g>
<g fill="rgba(108,108,108,0.56)" stroke="rgba(70,74,68,0.74)" stroke-width="2.1" stroke-linejoin="miter">
<path d="M480.00,563.30 h3.50 V609.30 h3.45 L481.75,614.40 L476.55,609.30 h3.45 Z"/>
<path d="M488.60,563.30 h3.50 V609.30 h3.45 L490.35,614.40 L485.15,609.30 h3.45 Z"/>
<path d="M497.20,563.30 h3.50 V609.30 h3.45 L498.95,614.40 L493.75,609.30 h3.45 Z"/>
<path d="M505.80,563.30 h3.50 V609.30 h3.45 L507.55,614.40 L502.35,609.30 h3.45 Z"/>
<path d="M514.40,563.30 h3.50 V609.30 h3.45 L516.15,614.40 L510.95,609.30 h3.45 Z"/>
<path d="M523.00,563.30 h3.50 V609.30 h3.45 L524.75,614.40 L519.55,609.30 h3.45 Z"/>
<path d="M531.60,563.30 h3.50 V609.30 h3.45 L533.35,614.40 L528.15,609.30 h3.45 Z"/>
<path d="M540.20,563.30 h3.50 V609.30 h3.45 L541.95,614.40 L536.75,609.30 h3.45 Z"/>
<path d="M548.80,563.30 h3.50 V609.30 h3.45 L550.55,614.40 L545.35,609.30 h3.45 Z"/>
<path d="M557.40,563.30 h3.50 V609.30 h3.45 L559.15,614.40 L553.95,609.30 h3.45 Z"/>
<path d="M566.00,563.30 h3.50 V609.30 h3.45 L567.75,614.40 L562.55,609.30 h3.45 Z"/>
<path d="M574.60,563.30 h3.50 V609.30 h3.45 L576.35,614.40 L571.15,609.30 h3.45 Z"/>
<path d="M583.00,580.00 h3.50 V609.30 h3.45 L584.75,614.40 L579.55,609.30 h3.45 Z"/>
<path d="M591.60,580.00 h3.50 V609.30 h3.45 L593.35,614.40 L588.15,609.30 h3.45 Z"/>
<path d="M600.20,580.00 h3.50 V609.30 h3.45 L601.95,614.40 L596.75,609.30 h3.45 Z"/>
<path d="M608.80,580.00 h3.50 V609.30 h3.45 L610.55,614.40 L605.35,609.30 h3.45 Z"/>
<path d="M617.40,580.00 h3.50 V609.30 h3.45 L619.15,614.40 L613.95,609.30 h3.45 Z"/>
<path d="M626.00,580.00 h3.50 V609.30 h3.45 L627.75,614.40 L622.55,609.30 h3.45 Z"/>
<path d="M642.65,580.20 h4.20 V609.30 h3.50 L644.75,614.40 L639.15,609.30 h3.50 Z"/>
<path d="M676.40,580.20 h4.20 V609.30 h3.50 L678.50,614.40 L672.90,609.30 h3.50 Z"/>
<path d="M727.90,580.20 h4.20 V609.30 h3.50 L730.00,614.40 L724.40,609.30 h3.50 Z"/>
<path d="M803.90,580.20 h4.20 V609.30 h3.50 L806.00,614.40 L800.40,609.30 h3.50 Z"/>
<path d="M847.20,580.20 h4.20 V609.30 h3.50 L849.30,614.40 L843.70,609.30 h3.50 Z"/>
<path d="M872.40,580.20 h4.20 V609.30 h3.50 L874.50,614.40 L868.90,609.30 h3.50 Z"/>
</g>
<g fill="rgba(108,108,108,0.56)" stroke="rgba(70,74,68,0.74)" stroke-width="2.4" stroke-linejoin="miter">
<path d="M601.40,681.70 h9.20 v5.20 h3.80 v24.60 h-3.80 v5.20 h-9.20 v-5.20 h-3.80 v-24.60 h3.80 Z"/>
<path d="M635.20,681.70 h9.20 v5.20 h3.80 v24.60 h-3.80 v5.20 h-9.20 v-5.20 h-3.80 v-24.60 h3.80 Z"/>
<path d="M668.80,681.70 h9.20 v5.20 h3.80 v24.60 h-3.80 v5.20 h-9.20 v-5.20 h-3.80 v-24.60 h3.80 Z"/>
<path d="M695.10,681.70 h9.20 v5.20 h3.80 v24.60 h-3.80 v5.20 h-9.20 v-5.20 h-3.80 v-24.60 h3.80 Z"/>
<path d="M745.80,681.70 h9.20 v5.20 h3.80 v24.60 h-3.80 v5.20 h-9.20 v-5.20 h-3.80 v-24.60 h3.80 Z"/>
<path d="M815.10,681.70 h9.20 v5.20 h3.80 v24.60 h-3.80 v5.20 h-9.20 v-5.20 h-3.80 v-24.60 h3.80 Z"/>
<path d="M866.00,681.70 h9.20 v5.20 h3.80 v24.60 h-3.80 v5.20 h-9.20 v-5.20 h-3.80 v-24.60 h3.80 Z"/>
</g>
<rect x="188.1" y="119.6" width="50.8" height="613.4" fill="rgba(108,108,108,0.56)" stroke="rgba(70,74,68,0.74)" stroke-width="2.4"/>
<rect x="255.80" y="136.80" width="102.20" height="67.70" fill="rgba(108,108,108,0.56)"/>
<line x1="247.50" y1="135.80" x2="247.50" y2="205.00" stroke="rgba(72,77,75,0.72)" stroke-width="3"/>
<line x1="247.50" y1="149.00" x2="217.00" y2="212.50" stroke="rgba(72,77,75,0.72)" stroke-width="2.8" stroke-linecap="round"/>
<g fill="rgba(58,60,60,0.84)" font-size="16.8px" text-anchor="middle">
<text x="307.00" y="167.20">Planning</text>
<text x="307.00" y="186.90">Process</text>
</g>
<line x1="358.00" y1="153.50" x2="377.50" y2="153.50" stroke="rgba(84,90,90,0.66)" stroke-width="2.3"/>
<path d="M383.50,153.50 L375.50,149.30 L375.50,157.70 Z" fill="rgba(84,90,90,0.66)"/>
<rect x="384.90" y="136.90" width="271.20" height="66.50" fill="rgba(108,108,108,0.56)" stroke="rgba(72,77,75,0.72)" stroke-width="2.4"/>
<g fill="rgba(58,60,60,0.84)" font-size="15.5px" text-anchor="middle">
<text x="520.50" y="156.70">Covering different SCM Disciplines</text>
<text x="520.50" y="175.60">and non SCM-Disciplines (not</text>
<text x="520.50" y="194.60">shown here)</text>
</g>
<rect x="683.00" y="145.00" width="110.50" height="59.70" fill="rgba(108,108,108,0.56)"/>
<line x1="673.50" y1="144.30" x2="673.50" y2="204.60" stroke="rgba(72,77,75,0.72)" stroke-width="3"/>
<line x1="673.50" y1="182.50" x2="656.00" y2="263.80" stroke="rgba(72,77,75,0.72)" stroke-width="2.8" stroke-linecap="round"/>
<g fill="rgba(58,60,60,0.84)" font-size="16.8px" text-anchor="middle">
<text x="738.00" y="171.60">Baselining</text>
<text x="738.00" y="191.00">Process</text>
</g>
<rect x="871.00" y="222.50" width="135.50" height="66.80" fill="rgba(108,108,108,0.56)"/>
<line x1="859.00" y1="221.00" x2="859.00" y2="290.60" stroke="rgba(72,77,75,0.72)" stroke-width="3"/>
<line x1="859.00" y1="255.00" x2="783.80" y2="278.60" stroke="rgba(72,77,75,0.72)" stroke-width="2.8" stroke-linecap="round"/>
<line x1="859.00" y1="265.60" x2="844.40" y2="309.40" stroke="rgba(72,77,75,0.72)" stroke-width="2.8" stroke-linecap="round"/>
<g fill="rgba(58,60,60,0.84)" font-size="14.1px" text-anchor="middle">
<text x="938.60" y="235.80">Applied to</text>
<text x="938.60" y="252.70">different</text>
<text x="938.60" y="269.60">Baselines in</text>
<text x="938.60" y="286.70">different Phases</text>
</g>
<rect x="307.00" y="247.50" width="103.00" height="50.50" fill="rgba(108,108,108,0.56)"/>
<line x1="298.75" y1="246.00" x2="298.75" y2="299.50" stroke="rgba(72,77,75,0.72)" stroke-width="3"/>
<line x1="298.75" y1="280.00" x2="282.50" y2="349.50" stroke="rgba(72,77,75,0.72)" stroke-width="2.8" stroke-linecap="round"/>
<g fill="rgba(58,60,60,0.84)" font-size="16.8px" text-anchor="middle">
<text x="358.20" y="258.60">Baseline</text>
<text x="358.20" y="278.80">CC</text>
<text x="358.20" y="298.80">Process</text>
</g>
<rect x="316.00" y="341.00" width="102.00" height="59.75" fill="rgba(108,108,108,0.56)"/>
<line x1="306.00" y1="340.00" x2="306.00" y2="401.00" stroke="rgba(72,77,75,0.72)" stroke-width="3"/>
<line x1="306.00" y1="386.00" x2="284.00" y2="429.00" stroke="rgba(72,77,75,0.72)" stroke-width="2.8" stroke-linecap="round"/>
<g fill="rgba(58,60,60,0.84)" font-size="16.8px" text-anchor="middle">
<text x="366.50" y="346.30">SCM</text>
<text x="366.50" y="367.00">Status</text>
<text x="366.50" y="387.50">Accountin</text>
<text x="366.50" y="408.60">g</text>
</g>
<line x1="418.2" y1="371.2" x2="437" y2="380.3" stroke="rgba(84,90,90,0.66)" stroke-width="2.3"/>
<path d="M442.8,383.2 L434.2,383.6 L437.8,376.2 Z" fill="rgba(84,90,90,0.66)"/>
<rect x="444.20" y="333.70" width="126.90" height="66.40" fill="rgba(108,108,108,0.56)" stroke="rgba(72,77,75,0.72)" stroke-width="2.4"/>
<g fill="rgba(58,60,60,0.84)" font-size="15.5px" text-anchor="middle">
<text x="507.70" y="344.50">Part of</text>
<text x="507.70" y="363.00">&#8220;Progress</text>
<text x="507.70" y="382.00">Review&#8221;</text>
<text x="507.70" y="400.50">process</text>
</g>
<rect x="619.75" y="341.25" width="110.55" height="59.35" fill="rgba(108,108,108,0.56)"/>
<line x1="610.25" y1="340.00" x2="610.25" y2="402.00" stroke="rgba(72,77,75,0.72)" stroke-width="3"/>
<line x1="610.25" y1="377.50" x2="568.50" y2="304.50" stroke="rgba(72,77,75,0.72)" stroke-width="2.8" stroke-linecap="round"/>
<g fill="rgba(58,60,60,0.84)" font-size="16.8px" text-anchor="middle">
<text x="675.00" y="356.00">CI</text>
<text x="675.00" y="377.40">Versioning</text>
<text x="675.00" y="398.50">Process</text>
</g>
<rect x="307.00" y="435.50" width="102.50" height="50.75" fill="rgba(108,108,108,0.56)"/>
<line x1="298.75" y1="434.00" x2="298.75" y2="487.00" stroke="rgba(72,77,75,0.72)" stroke-width="3"/>
<line x1="298.75" y1="467.50" x2="282.50" y2="537.00" stroke="rgba(72,77,75,0.72)" stroke-width="2.8" stroke-linecap="round"/>
<g fill="rgba(58,60,60,0.84)" font-size="16.8px" text-anchor="middle">
<text x="358.20" y="457.00">Audit</text>
<text x="358.20" y="477.00">Process</text>
</g>
<line x1="409.50" y1="452.00" x2="428.50" y2="452.00" stroke="rgba(84,90,90,0.66)" stroke-width="2.3"/>
<path d="M434.50,452.00 L426.50,447.80 L426.50,456.20 Z" fill="rgba(84,90,90,0.66)"/>
<rect x="435.70" y="436.20" width="169.85" height="48.90" fill="rgba(108,108,108,0.56)" stroke="rgba(72,77,75,0.72)" stroke-width="2.4"/>
<g fill="rgba(58,60,60,0.84)" font-size="15.5px" text-anchor="middle">
<text x="520.50" y="457.00">Mirrors non SCM</text>
<text x="520.50" y="475.50">Discipline Audits</text>
</g>
<rect x="819.40" y="444.20" width="158.60" height="59.00" fill="rgba(108,108,108,0.56)"/>
<line x1="806.00" y1="442.60" x2="806.00" y2="504.00" stroke="rgba(72,77,75,0.72)" stroke-width="3"/>
<line x1="806.00" y1="451.30" x2="603.00" y2="519.50" stroke="rgba(72,77,75,0.72)" stroke-width="2.8" stroke-linecap="round"/>
<line x1="806.00" y1="477.00" x2="753.60" y2="517.00" stroke="rgba(72,77,75,0.72)" stroke-width="2.8" stroke-linecap="round"/>
<line x1="806.00" y1="482.00" x2="789.00" y2="519.40" stroke="rgba(72,77,75,0.72)" stroke-width="2.8" stroke-linecap="round"/>
<g fill="rgba(58,60,60,0.84)" font-size="14.1px" text-anchor="middle">
<text x="898.50" y="462.00">Applied to audit types</text>
<text x="898.50" y="479.00">(BA, PCA, FCA) in</text>
<text x="898.50" y="496.00">different phases</text>
</g>
<rect x="703.30" y="539.00" width="102.20" height="33.80" fill="rgba(108,108,108,0.56)"/>
<line x1="694.60" y1="538.00" x2="694.60" y2="573.80" stroke="rgba(72,77,75,0.72)" stroke-width="3"/>
<line x1="694.60" y1="561.00" x2="679.50" y2="596.00" stroke="rgba(72,77,75,0.72)" stroke-width="2.8" stroke-linecap="round"/>
<g fill="rgba(58,60,60,0.84)" font-size="16.8px" text-anchor="middle">
<text x="754.30" y="552.70">Build</text>
<text x="754.30" y="572.80">Process</text>
</g>
<rect x="773.70" y="640.00" width="103.10" height="33.60" fill="rgba(108,108,108,0.56)"/>
<line x1="765.60" y1="639.00" x2="765.60" y2="674.00" stroke="rgba(72,77,75,0.72)" stroke-width="3"/>
<line x1="765.60" y1="661.00" x2="752.00" y2="696.00" stroke="rgba(72,77,75,0.72)" stroke-width="2.8" stroke-linecap="round"/>
<g fill="rgba(58,60,60,0.84)" font-size="16.8px" text-anchor="middle">
<text x="825.00" y="653.20">Release</text>
<text x="825.00" y="673.30">Process</text>
</g>
<text x="223.5" y="107.2" font-size="25.5px" fill="#000">SCM Activities Vary in Intensity over the SWLC</text>
<text x="173.5" y="721.3" font-size="17px" fill="#000">11/9/2009</text>
<g font-size="19.8px" fill="#000" text-anchor="middle"><text x="498.8" y="724">Software and Systems Engineering</text><text x="498.8" y="748">Standards Committee</text></g>
<text x="796.6" y="724" font-size="19.8px" fill="#000">12</text>
</svg>
</body></html>
